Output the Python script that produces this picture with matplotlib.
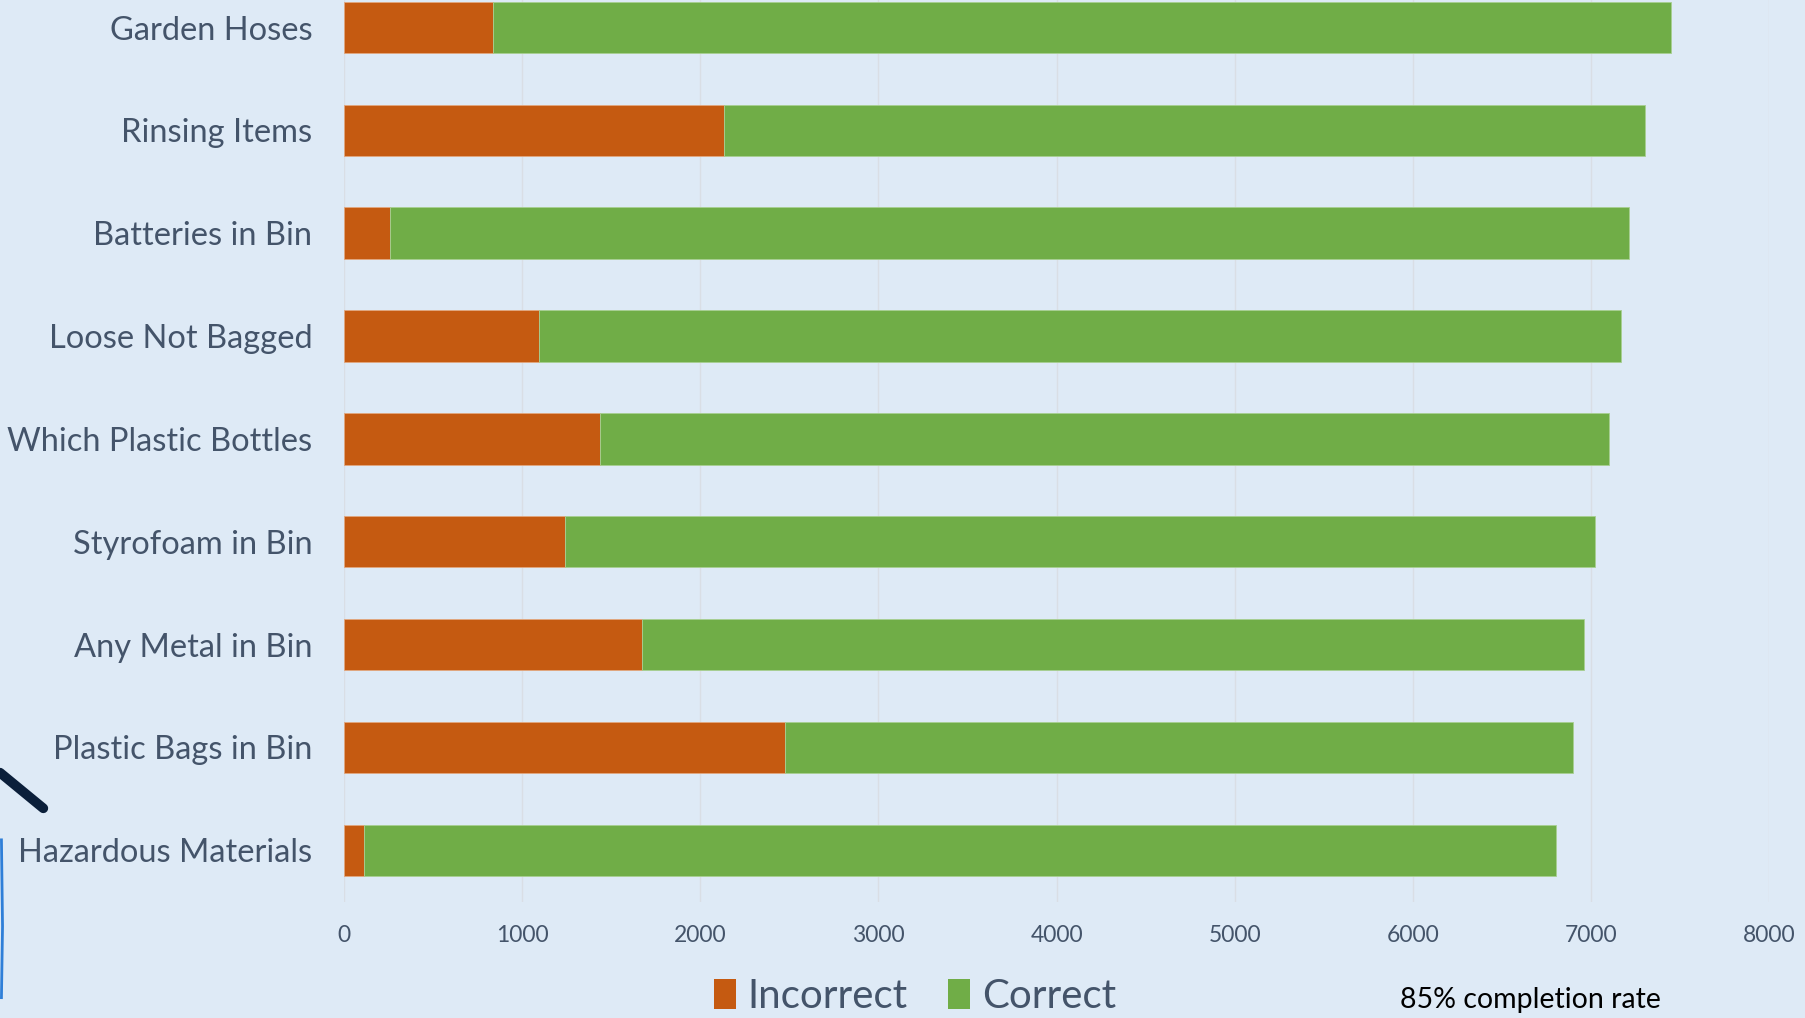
import matplotlib
matplotlib.use("Agg")
import matplotlib.pyplot as plt
from matplotlib.lines import Line2D
from matplotlib.patches import Patch

# Survey results: totals per question and the incorrect part of each
categories = [
    "Garden Hoses",
    "Rinsing Items",
    "Batteries in Bin",
    "Loose Not Bagged",
    "Which Plastic Bottles",
    "Styrofoam in Bin",
    "Any Metal in Bin",
    "Plastic Bags in Bin",
    "Hazardous Materials",
]
incorrect = [837, 2134, 257, 1092, 1435, 1240, 1674, 2475, 112]
correct = [6616, 5171, 6958, 6078, 5666, 5783, 5287, 4424, 6695]
xticks = [0, 1000, 2000, 3000, 4000, 5000, 6000, 7000, 8000]

BG = "#DEEAF6"
ORANGE = "#C55A11"
GREEN = "#70AD47"
TEXT = "#44546A"

plt.rcParams["font.family"] = "Lato"

fig = plt.figure(figsize=(18.05, 10.18), dpi=100, facecolor=BG)
# the plot area runs past the top of the picture, as in the original slide crop
ax = fig.add_axes([0.1907, 0.1142, 0.7893, 0.9093])
ax.set_facecolor(BG)

y = list(range(len(categories)))
ax.barh(y, incorrect, height=0.5, color=ORANGE, edgecolor="#E2A77F", linewidth=0.6, label="Incorrect", zorder=3)
ax.barh(y, correct, left=incorrect, height=0.5, color=GREEN, edgecolor="#A8CF92", linewidth=0.6, label="Correct", zorder=3)

ax.set_ylim(len(categories) - 0.5, -0.5)
ax.set_xlim(0, 8000)
ax.set_xticks(xticks)
ax.set_xticklabels([str(t) for t in xticks])
ax.set_yticks(y)
ax.set_yticklabels(categories)

ax.grid(axis="x", color="#D9DEE5", linewidth=1.0, zorder=0)
ax.grid(axis="y", visible=False)
for s in ax.spines.values():
    s.set_visible(False)

ax.tick_params(axis="y", length=0, pad=23, labelsize=23.5, labelcolor=TEXT)
ax.tick_params(axis="x", length=0, pad=17, labelsize=16.5, labelcolor=TEXT)

handles = [Patch(facecolor=ORANGE, label="Incorrect"), Patch(facecolor=GREEN, label="Correct")]
fig.legend(
    handles=handles,
    loc="center",
    bbox_to_anchor=(0.507, 0.021),
    ncol=2,
    frameon=False,
    fontsize=29,
    labelcolor=TEXT,
    handlelength=0.55,
    handleheight=0.75,
    handletextpad=0.3,
    columnspacing=1.0,
)

fig.text(0.7755, 0.018, "85% completion rate", fontsize=20.5, color="black", ha="left", va="center")

# decorative bits from the slide at the left edge
fig.add_artist(Line2D([0.0, 0.024], [0.241, 0.206], color="#0B1F3A", linewidth=7,
                      solid_capstyle="round", transform=fig.transFigure))
fig.add_artist(Line2D([0.0008, 0.0014, 0.0008], [0.175, 0.09, 0.02], color="#2F7FD8", linewidth=2,
                      transform=fig.transFigure))

fig.savefig("out.png", dpi=100, facecolor=BG)
